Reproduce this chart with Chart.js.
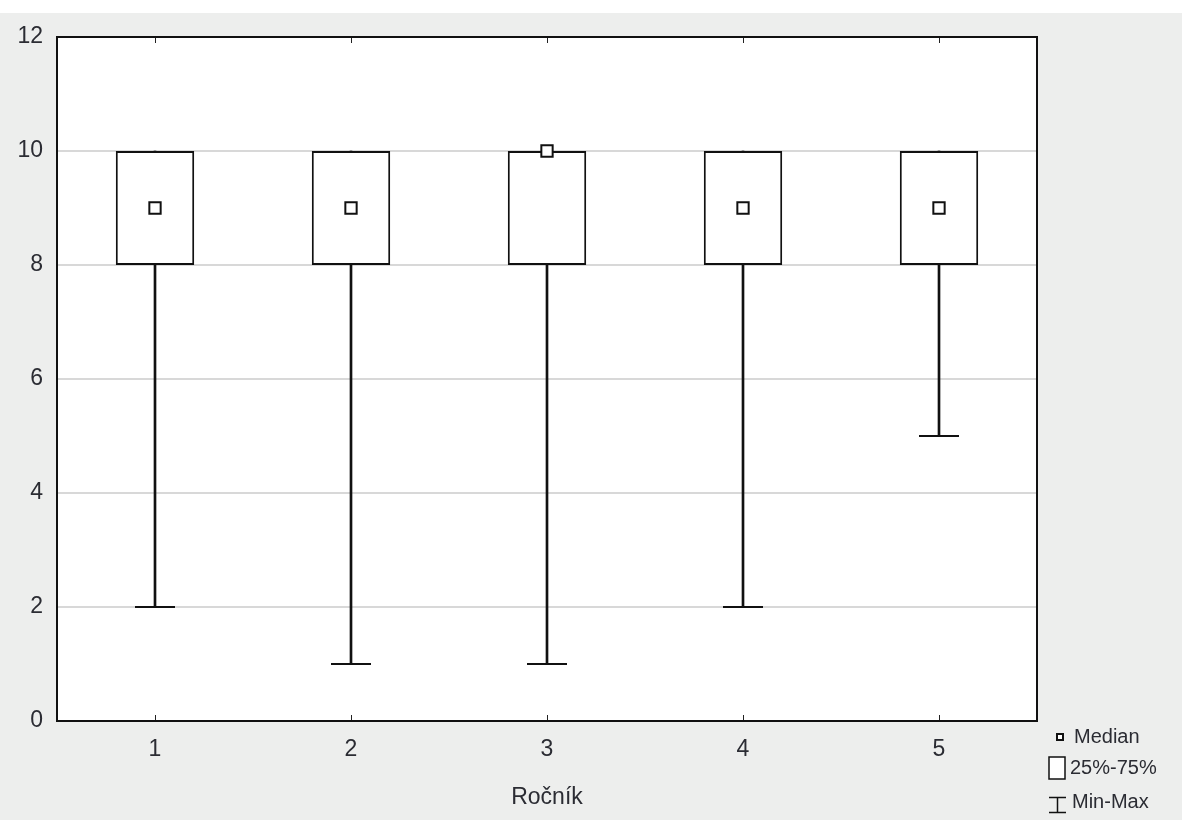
<!DOCTYPE html>
<html>
<head>
<meta charset="utf-8">
<script src="https://cdn.jsdelivr.net/npm/chart.js@4"></script>
<style>
  html, body { margin: 0; padding: 0; background: #ffffff; }
  #wrap { position: relative; width: 1182px; height: 820px; }
</style>
</head>
<body>
<div id="wrap"><canvas id="box"></canvas></div>
<script>
// Ročník (year) categories and box plot statistics
const categories = ["1", "2", "3", "4", "5"];
const minValues = [2, 1, 1, 2, 5];
const q1Values = [8, 8, 8, 8, 8];
const q3Values = [10, 10, 10, 10, 10];
const maxValues = [10, 10, 10, 10, 10];
const medianValues = [9, 9, 10, 9, 9];
const legendLabels = ["Median", "25%-75%", "Min-Max"];
const xTitle = "Ročník";

const FONT = "'Liberation Sans Narrow', 'Liberation Sans', Arial, sans-serif";
const TEXT = "#2b2c33";

// background: white strip on top, grey page, white plot area
const backgroundPlugin = {
  id: "background",
  beforeDraw: (chart) => {
    const ctx = chart.ctx;
    const a = chart.chartArea;
    ctx.save();
    ctx.fillStyle = "#ffffff";
    ctx.fillRect(0, 0, chart.width, 13);
    ctx.fillStyle = "#edeeed";
    ctx.fillRect(0, 13, chart.width, chart.height - 13);
    ctx.fillStyle = "#ffffff";
    ctx.fillRect(a.left, a.top, a.right - a.left, a.bottom - a.top);
    ctx.restore();
  },
};

// black frame, inner tick marks and legend
const framePlugin = {
  id: "frame",
  afterDraw: (chart) => {
    const ctx = chart.ctx;
    const a = chart.chartArea;
    const xs = chart.scales.x;
    ctx.save();
    // tick marks at categories, top and bottom
    ctx.strokeStyle = "#222222";
    ctx.lineWidth = 1;
    categories.forEach((c, i) => {
      const x = Math.round(xs.getPixelForValue(i)) + 0.5;
      ctx.beginPath();
      ctx.moveTo(x, a.bottom);
      ctx.lineTo(x, a.bottom - 6);
      ctx.moveTo(x, a.top);
      ctx.lineTo(x, a.top + 6);
      ctx.stroke();
    });
    ctx.strokeStyle = "#111111";
    ctx.lineWidth = 2;
    ctx.strokeRect(a.left, a.top, a.right - a.left, a.bottom - a.top);

    // legend
    ctx.fillStyle = "#ffffff";
    ctx.strokeStyle = "#111111";
    ctx.lineWidth = 2;
    ctx.fillRect(1057, 734, 6, 6);
    ctx.strokeRect(1057, 734, 6, 6);
    ctx.lineWidth = 1.5;
    ctx.fillRect(1049, 757, 16, 22);
    ctx.strokeRect(1049, 757, 16, 22);
    ctx.beginPath();
    ctx.moveTo(1049, 797.5);
    ctx.lineTo(1066, 797.5);
    ctx.moveTo(1057.5, 797.5);
    ctx.lineTo(1057.5, 812.5);
    ctx.moveTo(1049, 812.5);
    ctx.lineTo(1066, 812.5);
    ctx.stroke();

    ctx.fillStyle = TEXT;
    ctx.font = "20px " + FONT;
    ctx.textBaseline = "middle";
    ctx.textAlign = "left";
    ctx.fillText(legendLabels[0], 1074, 737);
    ctx.fillText(legendLabels[1], 1070, 768);
    ctx.fillText(legendLabels[2], 1072, 802);
    ctx.restore();
  },
};

const config = {
  data: {
    labels: categories,
    datasets: [
      {
        type: "line",
        label: legendLabels[0],
        data: medianValues,
        showLine: false,
        pointStyle: "rect",
        pointRadius: 8,
        pointHoverRadius: 8,
        pointBackgroundColor: "#ffffff",
        pointBorderColor: "#111111",
        pointBorderWidth: 2,
        order: 0,
      },
      {
        type: "bar",
        label: legendLabels[1],
        data: categories.map((c, i) => [q1Values[i], q3Values[i]]),
        backgroundColor: "#ffffff",
        borderColor: "#111111",
        borderWidth: 2,
        borderSkipped: false,
        grouped: false,
        barPercentage: 0.4,
        categoryPercentage: 1,
        order: 1,
      },
      {
        type: "bar",
        label: "whisker",
        data: categories.map((c, i) => [minValues[i], q1Values[i]]),
        backgroundColor: "#111111",
        borderWidth: 0,
        grouped: false,
        barThickness: 2,
        order: 2,
      },
      {
        type: "bar",
        label: "whisker top",
        data: categories.map((c, i) => [q3Values[i], maxValues[i]]),
        backgroundColor: "#111111",
        borderWidth: 0,
        grouped: false,
        barThickness: 2,
        order: 2,
      },
      {
        type: "line",
        label: legendLabels[2],
        data: minValues,
        showLine: false,
        pointStyle: "line",
        pointRadius: 20,
        pointHoverRadius: 20,
        pointBorderColor: "#111111",
        pointBorderWidth: 2,
        order: 2,
      },
    ],
  },
  options: {
    responsive: false,
    animation: false,
    events: [],
    layout: { padding: { top: 37, right: 145, bottom: 0, left: 0 } },
    plugins: {
      legend: { display: false },
      tooltip: { enabled: false },
    },
    scales: {
      x: {
        type: "category",
        offset: true,
        afterFit: (scale) => { scale.height = 99; },
        grid: { display: false, drawTicks: false },
        border: { display: false },
        ticks: {
          padding: 15,
          color: TEXT,
          font: { family: FONT, size: 23 },
        },
        title: {
          display: true,
          text: xTitle,
          color: TEXT,
          font: { family: FONT, size: 23 },
          padding: { top: 0, bottom: 9 },
        },
      },
      y: {
        min: 0,
        max: 12,
        afterFit: (scale) => { scale.width = 57; },
        grid: {
          drawTicks: false,
          lineWidth: 2,
          color: (ctx) => (ctx.tick.value === 0 || ctx.tick.value === 12 ? "rgba(0,0,0,0)" : "#d8d8d8"),
        },
        border: { display: false },
        ticks: {
          stepSize: 2,
          padding: 14,
          color: TEXT,
          font: { family: FONT, size: 23 },
        },
      },
    },
  },
  plugins: [backgroundPlugin, framePlugin],
};

const canvas = document.getElementById("box");
canvas.width = 1182;
canvas.height = 820;
const chart = new Chart(canvas, config);
</script>
</body>
</html>
